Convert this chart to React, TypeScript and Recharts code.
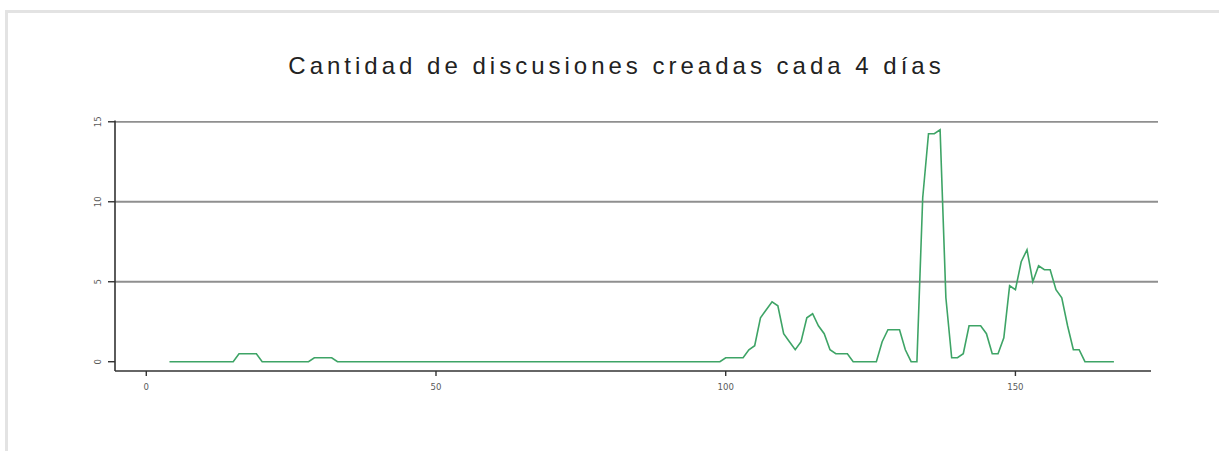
import { LineChart, Line, XAxis, YAxis, ReferenceLine } from "recharts";

// dia (x) y cantidad media de discusiones por ventana de 4 dias
const dias: number[] = [];
for (let d = 4; d <= 167; d++) dias.push(d);

const cantidades = [
  // 4-15
  0, 0, 0, 0, 0, 0, 0, 0, 0, 0, 0, 0,
  // 16-19
  0.5, 0.5, 0.5, 0.5,
  // 20-28
  0, 0, 0, 0, 0, 0, 0, 0, 0,
  // 29-32
  0.25, 0.25, 0.25, 0.25,
  // 33-99
  0, 0, 0, 0, 0, 0, 0, 0, 0, 0, 0, 0, 0, 0, 0, 0, 0, 0, 0, 0,
  0, 0, 0, 0, 0, 0, 0, 0, 0, 0, 0, 0, 0, 0, 0, 0, 0, 0, 0, 0,
  0, 0, 0, 0, 0, 0, 0, 0, 0, 0, 0, 0, 0, 0, 0, 0, 0, 0, 0, 0,
  0, 0, 0, 0, 0, 0, 0,
  // 100-121
  0.25, 0.25, 0.25, 0.25, 0.75, 1, 2.75, 3.25, 3.75, 3.5, 1.75,
  1.25, 0.75, 1.25, 2.75, 3, 2.25, 1.75, 0.75, 0.5, 0.5, 0.5,
  // 122-133
  0, 0, 0, 0, 0, 1.25, 2, 2, 2, 0.75, 0, 0,
  // 134-148
  10.25, 14.25, 14.25, 14.5, 4, 0.25, 0.25, 0.5, 2.25, 2.25, 2.25, 1.75, 0.5, 0.5, 1.5,
  // 149-161
  4.75, 4.5, 6.25, 7, 5, 6, 5.75, 5.75, 4.5, 4, 2.25, 0.75, 0.75,
  // 162-167
  0, 0, 0, 0, 0, 0,
];

const xTicks = [0, 50, 100, 150];
const yTicks = [0, 5, 10, 15];
const lineasGuia = [5, 10, 15];

const data = dias.map((d, i) => ({ dia: d, cantidad: cantidades[i] ?? 0 }));

const TICK_FONT = "'DejaVu Sans Condensed', 'DejaVu Sans', sans-serif";

const XTick = ({ x, y, payload }: any) => (
  <text x={x} y={y} dy="0.71em" textAnchor="middle" fontSize={9.5} fill="#5a5a5a" fontFamily={TICK_FONT}>
    {payload.value}
  </text>
);

const YTick = ({ x, y, payload }: any) => (
  <text
    x={x}
    y={y}
    textAnchor="middle"
    fontSize={9.5}
    fill="#5a5a5a"
    fontFamily={TICK_FONT}
    transform={`rotate(-90, ${x}, ${y})`}
  >
    {payload.value}
  </text>
);

const GridLine = (p: any) => (
  <line x1={p.x1} y1={p.y1} x2={p.x2 + 7} y2={p.y2} stroke="#8f8f8f" strokeWidth={1.8} />
);

export default function App() {
  return (
    <div style={{ position: "relative", width: 1219, height: 451, background: "#fff", overflow: "hidden" }}>
      <style>{`html,body{margin:0;overflow:hidden;}`}</style>
      <div
        style={{
          position: "absolute",
          left: 5,
          top: 10,
          width: 1300,
          height: 500,
          borderTop: "3px solid #e3e3e3",
          borderLeft: "3px solid #e3e3e3",
        }}
      />
      <div
        style={{
          position: "absolute",
          left: 0,
          width: 1233,
          top: 54,
          textAlign: "center",
          fontFamily: "'Liberation Sans', Arial, sans-serif",
          fontSize: 24,
          lineHeight: "24px",
          letterSpacing: 4,
          color: "#222",
        }}
      >
        Cantidad de discusiones creadas cada 4 días
      </div>
      <div style={{ position: "absolute", left: 0, top: 0 }}>
        <LineChart width={1219} height={451} data={data} margin={{ top: 120.5, right: 68, bottom: 50, left: 75 }}>
          <XAxis
            dataKey="dia"
            type="number"
            domain={[-5.4, 173.4]}
            ticks={xTicks}
            allowDataOverflow
            height={30}
            tickSize={5}
            tickMargin={7}
            axisLine={{ stroke: "#333", strokeWidth: 1.6 }}
            tickLine={{ stroke: "#333", strokeWidth: 1.4 }}
            tick={<XTick />}
          />
          <YAxis
            type="number"
            domain={[-0.58, 15.08]}
            ticks={yTicks}
            allowDataOverflow
            width={40}
            tickSize={7}
            tickMargin={7}
            axisLine={{ stroke: "#333", strokeWidth: 1.6 }}
            tickLine={{ stroke: "#333", strokeWidth: 1.4 }}
            tick={<YTick />}
          />
          {lineasGuia.map((v) => (
            <ReferenceLine key={v} y={v} shape={GridLine} ifOverflow="visible" />
          ))}
          <Line
            type="linear"
            dataKey="cantidad"
            stroke="#3ea466"
            strokeWidth={1.6}
            dot={false}
            activeDot={false}
            isAnimationActive={false}
          />
        </LineChart>
      </div>
    </div>
  );
}
